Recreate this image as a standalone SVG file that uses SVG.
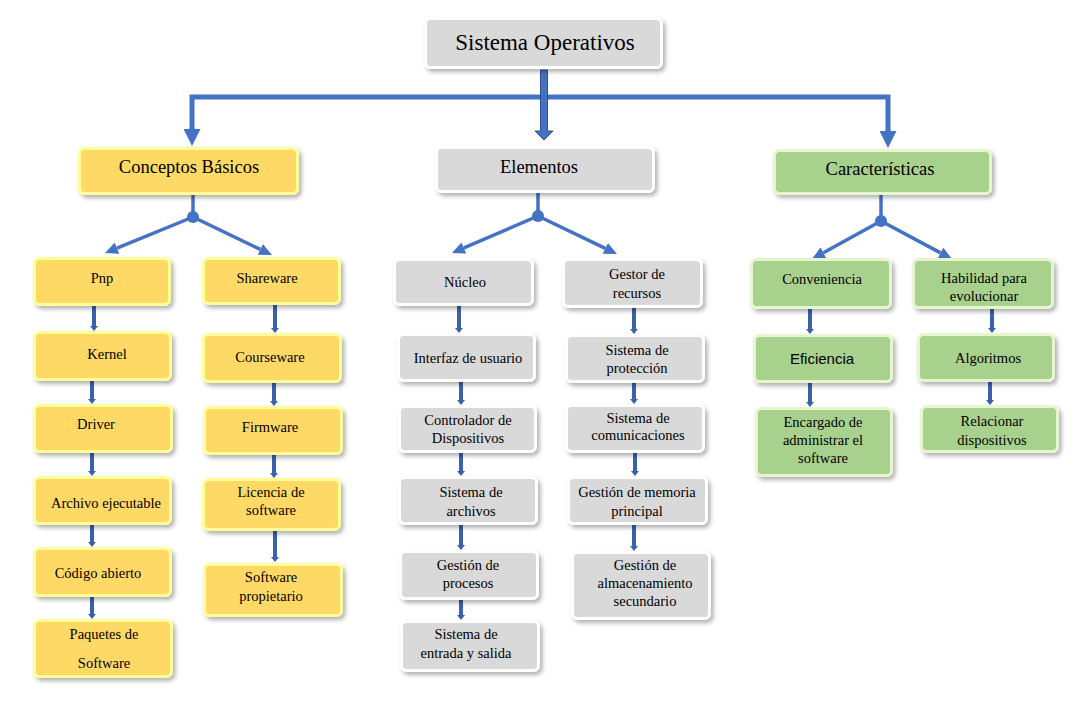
<svg xmlns="http://www.w3.org/2000/svg" width="1091" height="717" viewBox="0 0 1091 717">
<defs>
<filter id="sh" x="-10%" y="-10%" width="125%" height="130%">
<feDropShadow dx="2.5" dy="3" stdDeviation="2" flood-color="#000" flood-opacity="0.3"/>
</filter>
<marker id="big" markerUnits="userSpaceOnUse" viewBox="0 0 17 17" refX="0" refY="8.5" markerWidth="17" markerHeight="17" orient="auto">
<path d="M0,0 L17,8.5 L0,17 z" fill="#4472c4"/>
</marker>
<marker id="mid" markerUnits="userSpaceOnUse" viewBox="0 0 13 12" refX="0" refY="6" markerWidth="13" markerHeight="12" orient="auto">
<path d="M0,0 L13,6 L0,12 z" fill="#4472c4"/>
</marker>
<marker id="sm" markerUnits="userSpaceOnUse" viewBox="0 0 5 8" refX="0" refY="4" markerWidth="5" markerHeight="8" orient="auto">
<path d="M0,0 L5,4 L0,8 z" fill="#3a62ab"/>
</marker>
</defs>
<style>
.y{fill:#ffd966;stroke:#ffff99;stroke-width:3}
.g{fill:#d9d9d9;stroke:#ffffff;stroke-width:3}
.v{fill:#a9d18e;stroke:#e6f7cf;stroke-width:3}
rect{filter:url(#sh)}
text{font-family:"Liberation Serif","Times New Roman",serif;fill:#000;text-anchor:middle;font-size:14.5px}
.t1{font-size:23px}
.t2{font-size:18.5px}
.sans{font-family:"Liberation Sans",Arial,sans-serif;font-size:15px}
.main{stroke:#4472c4;stroke-width:5;fill:none}
.br{stroke:#4472c4;stroke-width:3.5;fill:none}
.s{stroke:#3a62ab;stroke-width:4;fill:none;marker-end:url(#sm)}
</style>
<rect width="1091" height="717" fill="#fff" style="filter:none"/>

<g id="connectors">
<path class="main" d="M192,129 V97 H888 V131" />
<path class="main" d="M192,128 V129" marker-end="url(#big)"/>
<path class="main" d="M888,130 V131" marker-end="url(#big)"/>
<polygon points="540.5,70 547.5,70 547.5,131 553,131 544,140 535,131 540.5,131" fill="#4472c4" stroke="#2f528f" stroke-width="1"/>

<line class="br" x1="193" y1="195" x2="193" y2="217"/>
<circle cx="193" cy="217" r="6" fill="#4472c4"/>
<line class="br" x1="193" y1="217" x2="117" y2="248.1" marker-end="url(#mid)"/>
<line class="br" x1="193" y1="217" x2="260.3" y2="249.4" marker-end="url(#mid)"/>

<line class="br" x1="538" y1="193" x2="538" y2="216"/>
<circle cx="538" cy="216" r="6" fill="#4472c4"/>
<line class="br" x1="538" y1="216" x2="463.9" y2="247.9" marker-end="url(#mid)"/>
<line class="br" x1="538" y1="216" x2="605.3" y2="248.4" marker-end="url(#mid)"/>

<line class="br" x1="881" y1="195" x2="881" y2="221"/>
<circle cx="881" cy="221" r="6" fill="#4472c4"/>
<line class="br" x1="881" y1="221" x2="823.4" y2="252.7" marker-end="url(#mid)"/>
<line class="br" x1="881" y1="221" x2="940.5" y2="252.9" marker-end="url(#mid)"/>

<path class="s" d="M94,306 V326"/>
<path class="s" d="M92,381 V399"/>
<path class="s" d="M92,453 V471"/>
<path class="s" d="M92,525 V542"/>
<path class="s" d="M92,597 V614"/>
<path class="s" d="M275,305 V328"/>
<path class="s" d="M274,383 V401"/>
<path class="s" d="M274,455 V473"/>
<path class="s" d="M275,531 V557"/>
<path class="s" d="M459,306 V328"/>
<path class="s" d="M461,382 V400"/>
<path class="s" d="M461,453 V471"/>
<path class="s" d="M461,525 V545"/>
<path class="s" d="M461,600 V615"/>
<path class="s" d="M634,308 V329"/>
<path class="s" d="M634,383 V399"/>
<path class="s" d="M635,453 V471"/>
<path class="s" d="M634,525 V546"/>
<path class="s" d="M810,309 V329"/>
<path class="s" d="M810,383 V402"/>
<path class="s" d="M992,309 V328"/>
<path class="s" d="M990,382 V400"/>
</g>

<g id="n-so"><rect class="g" x="425.5" y="18.5" width="236" height="49" rx="5"/><text class="t1" x="545" y="50">Sistema Operativos</text></g>

<g id="n-conceptos"><rect class="y" x="79.5" y="148.5" width="218" height="45" rx="5"/><text class="t2" x="189" y="173">Conceptos Básicos</text></g>
<g id="n-elementos"><rect class="g" x="436.5" y="147.5" width="217" height="44" rx="5"/><text class="t2" x="539" y="173">Elementos</text></g>
<g id="n-caracteristicas"><rect class="v" x="774.5" y="150.5" width="216" height="43" rx="5"/><text class="t2" x="880" y="175">Características</text></g>

<g id="n-pnp"><rect class="y" x="34.5" y="258.5" width="135" height="46" rx="5"/><text x="102" y="283">Pnp</text></g>
<g id="n-kernel"><rect class="y" x="34.5" y="332.5" width="136" height="47" rx="5"/><text x="107" y="359">Kernel</text></g>
<g id="n-driver"><rect class="y" x="34.5" y="405.5" width="137" height="46" rx="5"/><text x="96" y="429">Driver</text></g>
<g id="n-archivo"><rect class="y" x="34.5" y="477.5" width="136" height="46" rx="5"/><text x="106" y="508">Archivo ejecutable</text></g>
<g id="n-codigo"><rect class="y" x="34.5" y="548.5" width="136" height="47" rx="5"/><text x="98" y="578">Código abierto</text></g>
<g id="n-paquetes"><rect class="y" x="34.5" y="620.5" width="137" height="56" rx="5"/><text x="104" y="639">Paquetes de</text><text x="104" y="668">Software</text></g>

<g id="n-shareware"><rect class="y" x="203.5" y="258.5" width="136" height="45" rx="5"/><text x="267" y="283">Shareware</text></g>
<g id="n-courseware"><rect class="y" x="203.5" y="334.5" width="137" height="47" rx="5"/><text x="270" y="362">Courseware</text></g>
<g id="n-firmware"><rect class="y" x="204.5" y="407.5" width="137" height="46" rx="5"/><text x="270" y="432">Firmware</text></g>
<g id="n-licencia"><rect class="y" x="203.5" y="479.5" width="136" height="50" rx="5"/><text x="271" y="497">Licencia de</text><text x="271" y="515">software</text></g>
<g id="n-propietario"><rect class="y" x="204.5" y="564.5" width="137" height="51" rx="5"/><text x="271" y="582">Software</text><text x="271" y="601">propietario</text></g>

<g id="n-nucleo"><rect class="g" x="394.5" y="259.5" width="138" height="45" rx="5"/><text x="465" y="287">Núcleo</text></g>
<g id="n-interfaz"><rect class="g" x="398.5" y="334.5" width="136" height="46" rx="5"/><text x="468" y="363">Interfaz de usuario</text></g>
<g id="n-controlador"><rect class="g" x="399.5" y="406.5" width="136" height="45" rx="5"/><text x="468" y="425">Controlador de</text><text x="468" y="443">Dispositivos</text></g>
<g id="n-archivos"><rect class="g" x="399.5" y="477.5" width="137" height="46" rx="5"/><text x="471" y="497">Sistema de</text><text x="471" y="516">archivos</text></g>
<g id="n-procesos"><rect class="g" x="400.5" y="551.5" width="137" height="47" rx="5"/><text x="468" y="570">Gestión de</text><text x="468" y="588">procesos</text></g>
<g id="n-es"><rect class="g" x="401.5" y="621.5" width="137" height="49" rx="5"/><text x="466" y="639">Sistema de</text><text x="466" y="658">entrada y salida</text></g>

<g id="n-gestor"><rect class="g" x="563.5" y="259.5" width="138" height="47" rx="5"/><text x="637" y="279">Gestor de</text><text x="637" y="298">recursos</text></g>
<g id="n-proteccion"><rect class="g" x="566.5" y="335.5" width="137" height="46" rx="5"/><text x="637" y="355">Sistema de</text><text x="637" y="373">protección</text></g>
<g id="n-comunicaciones"><rect class="g" x="566.5" y="405.5" width="137" height="46" rx="5"/><text x="638" y="423">Sistema de</text><text x="638" y="440">comunicaciones</text></g>
<g id="n-memoria"><rect class="g" x="568.5" y="477.5" width="138" height="46" rx="5"/><text x="637" y="497">Gestión de memoria</text><text x="637" y="516">principal</text></g>
<g id="n-almacenamiento"><rect class="g" x="572.5" y="552.5" width="137" height="66" rx="5"/><text x="645" y="570">Gestión de</text><text x="645" y="588">almacenamiento</text><text x="645" y="606">secundario</text></g>

<g id="n-conveniencia"><rect class="v" x="751.5" y="259.5" width="139" height="48" rx="5"/><text x="822" y="284">Conveniencia</text></g>
<g id="n-eficiencia"><rect class="v" x="754.5" y="335.5" width="137" height="46" rx="5"/><text class="sans" x="822" y="364">Eficiencia</text></g>
<g id="n-encargado"><rect class="v" x="756.5" y="408.5" width="135" height="67" rx="5"/><text x="823" y="427">Encargado de</text><text x="823" y="445">administrar el</text><text x="823" y="463">software</text></g>
<g id="n-habilidad"><rect class="v" x="913.5" y="259.5" width="139" height="48" rx="5"/><text x="984" y="283">Habilidad para</text><text x="984" y="301">evolucionar</text></g>
<g id="n-algoritmos"><rect class="v" x="918.5" y="334.5" width="135" height="46" rx="5"/><text x="988" y="363">Algoritmos</text></g>
<g id="n-relacionar"><rect class="v" x="921.5" y="406.5" width="136" height="45" rx="5"/><text x="992" y="426">Relacionar</text><text x="992" y="445">dispositivos</text></g>
</svg>
